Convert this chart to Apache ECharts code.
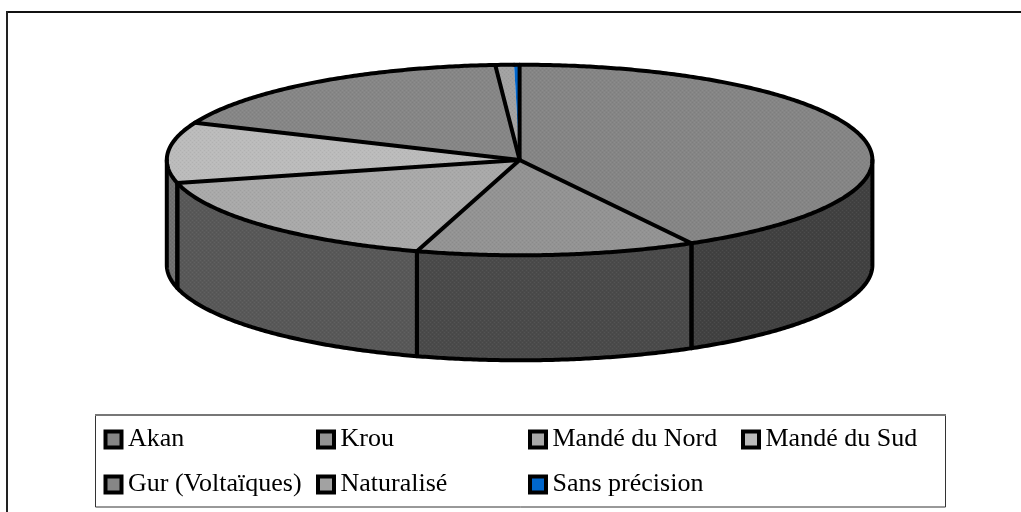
<!DOCTYPE html>
<html><head><meta charset="utf-8">
<style>html,body{margin:0;padding:0;background:#fff}#c{width:1021px;height:512px}</style>
<script src="https://cdn.jsdelivr.net/npm/echarts@6/dist/echarts.min.js"></script>
</head><body><div id="c"></div>
<script>
const categories = ['Akan','Krou','Mandé du Nord','Mandé du Sud','Gur (Voltaïques)','Naturalisé','Sans précision'];
const values = [41.9,12.8,16.4,10.3,17.5,0.85,0.25];
const topColors = ['#858585','#939393','#a9a9a9','#bbbbbb','#868686','#a2a2a2','#0066cc'];
const sideColors = ['#414141','#4a4a4a','#585858','#707070','#444444','#505050','#003070'];
const legendLeft = [103.5,316,528,741,103.5,316,528];
const legendTop = [426.5,426.5,426.5,426.5,471.5,471.5,471.5];

const cx=519.6, cy=160, rx=352.8, ry=95.3, depth=105;
const total = values.reduce((a,b)=>a+b,0);
const starts=[]; let acc=0;
values.forEach(v=>{starts.push(acc/total*360); acc+=v;});
const pt=(deg,dy)=>{const t=deg*Math.PI/180; return [cx+rx*Math.sin(t), cy-ry*Math.cos(t)+(dy||0)];};
function arc(a0,a1,dy){const n=Math.max(2,Math.ceil((a1-a0)*2)); const out=[]; for(let i=0;i<=n;i++) out.push(pt(a0+(a1-a0)*i/n,dy)); return out;}
function dither(hex){
  const cv=document.createElement('canvas'); cv.width=cv.height=4;
  const g=cv.getContext('2d'); g.fillStyle=hex; g.fillRect(0,0,4,4);
  g.fillStyle='rgba(255,255,255,0.06)'; g.fillRect(0,0,1,1); g.fillRect(2,2,1,1);
  g.fillStyle='rgba(0,0,0,0.05)'; g.fillRect(2,0,1,1); g.fillRect(0,2,1,1);
  return {image:cv,repeat:'repeat'};
}
const lineStyle={fill:null,stroke:'#000',lineWidth:4,lineJoin:'round',lineCap:'round'};
const lastIndex=categories.length-1;
function renderSlice(i){
  return function(params,api){
    const a0=starts[i], a1=a0+api.value(0)/total*360;
    const children=[];
    const lo=Math.max(a0,90), hi=Math.min(a1,270);
    if(hi>lo){
      const low=arc(lo,hi,depth), up=arc(lo,hi,0);
      children.push({type:'polygon',z2:1,shape:{points:up.concat(low.slice().reverse())},style:{fill:dither(sideColors[i])}});
      children.push({type:'polyline',z2:3,shape:{points:[up[0],low[0]].concat(low,[up[up.length-1]])},style:lineStyle});
    }
    const top=arc(a0,a1,0);
    const isLast=i===lastIndex;
    children.push({type:'polygon',z2:2,shape:{points:[[cx,cy]].concat(top)},style:{fill:isLast?topColors[i]:dither(topColors[i])}});
    const edge=isLast?top:[[cx,cy]].concat(top);
    children.push({type:'polyline',z2:3,shape:{points:edge},style:lineStyle});
    return {type:'group',children};
  };
}
const series=categories.map((name,i)=>({
  type:'custom',name,coordinateSystem:'none',silent:true,
  itemStyle:{color:topColors[i]},
  renderItem:renderSlice(i),data:[[values[i]]],animation:false
}));
const legend=categories.map((name,i)=>({
  data:[name],left:legendLeft[i],top:legendTop[i],padding:0,
  itemWidth:16,itemHeight:16,itemGap:10,icon:'rect',selectedMode:false,
  itemStyle:{borderColor:'#000',borderWidth:4},
  textStyle:{fontFamily:'Liberation Serif',fontSize:26,color:'#000',padding:[0,0,0,1.5]}
}));
const chart=echarts.init(document.getElementById('c'),null,{renderer:'canvas'});
chart.setOption({
  animation:false,
  backgroundColor:'#fff',
  graphic:[
    {type:'line',z:-1,shape:{x1:6,y1:12,x2:1021,y2:12},style:{stroke:'#111',lineWidth:2}},
    {type:'line',z:-1,shape:{x1:7,y1:11,x2:7,y2:512},style:{stroke:'#222',lineWidth:2}},
    {type:'rect',z:-1,shape:{x:95.5,y:415.5,width:850,height:91.5},style:{fill:'#fff',stroke:'#333',lineWidth:1}},
    {type:'line',z:-1,shape:{x1:95,y1:415,x2:946,y2:415},style:{stroke:'#777',lineWidth:2}}
  ],
  legend,series
});
</script></body></html>
